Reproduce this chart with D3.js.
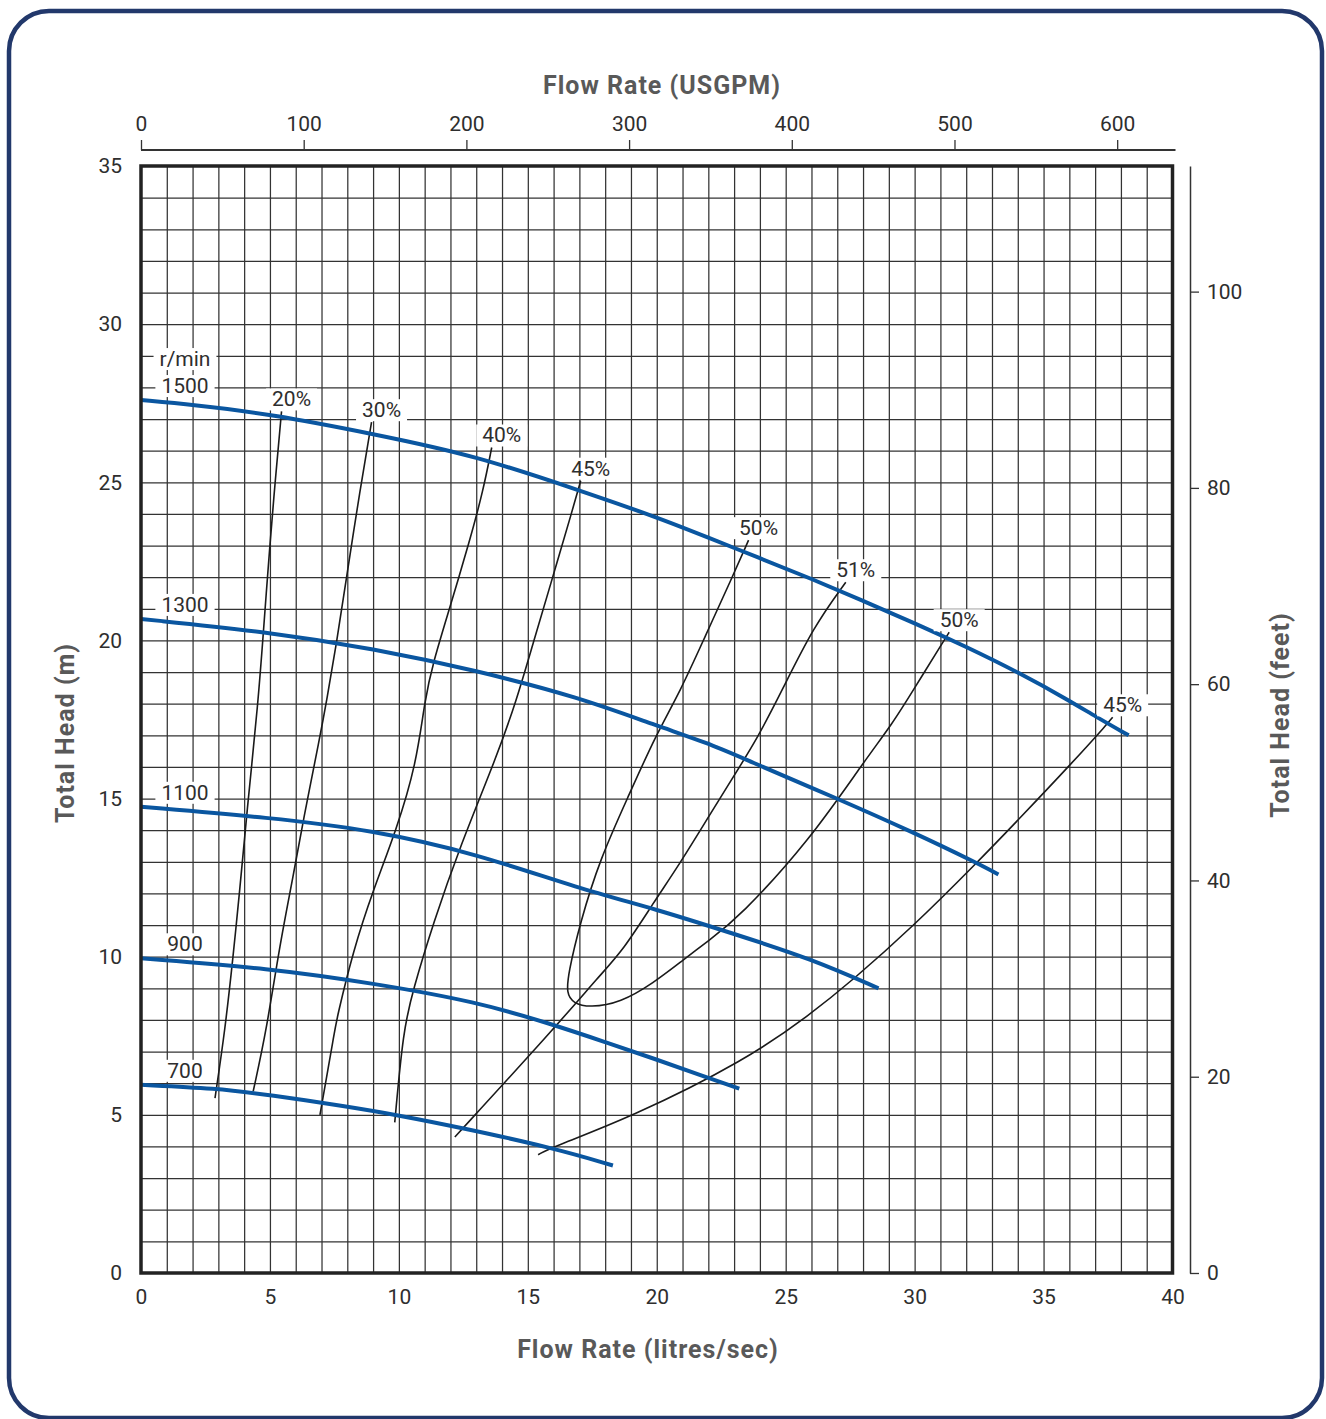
<!DOCTYPE html>
<html>
<head>
<meta charset="utf-8">
<script src="https://cdn.jsdelivr.net/npm/d3@7"></script>
<style>
  html, body { margin: 0; padding: 0; background: #fff; }
  svg { display: block; }
</style>
</head>
<body>
<div id="chart"></div>
<script>
// axis ticks
const flowTicks = [0, 5, 10, 15, 20, 25, 30, 35, 40];
const headTicks = [0, 5, 10, 15, 20, 25, 30, 35];
const gpmTicks = [0, 100, 200, 300, 400, 500, 600];
const feetTicks = [0, 20, 40, 60, 80, 100];
const LPS_TO_GPM = 15.85;

// pump curves: [flow l/s, head m]
const speedLabels = ["1500", "1300", "1100", "900", "700"];
const head1500 = [[0, 27.6], [2, 27.45], [5, 27.16], [9, 26.53], [13, 25.84], [17, 24.74], [20, 23.9], [22, 23.25], [24, 22.6], [26, 21.95], [28, 21.25], [30, 20.55], [32, 19.8], [34, 19.0], [36, 18.1], [37, 17.6], [38.3, 17.0]];
const head1300 = [[0, 20.68], [5, 20.26], [9, 19.74], [13, 19.05], [17, 18.2], [20, 17.3], [22, 16.75], [23.4, 16.25], [27, 15.0], [29.9, 13.95], [32.4, 12.97], [33.25, 12.6]];
const head1100 = [[0, 14.74], [5, 14.4], [9, 14.0], [13, 13.26], [17, 12.15], [20, 11.5], [23, 10.72], [26, 9.93], [28.6, 9.0]];
const head900 = [[0, 9.95], [5, 9.63], [9, 9.16], [13, 8.58], [16, 7.85], [18, 7.3], [20, 6.75], [21.7, 6.25], [23.2, 5.83]];
const head700 = [[0, 5.95], [2.9, 5.84], [5, 5.63], [8, 5.26], [9.9, 5.0], [12.5, 4.58], [16, 3.95], [18.3, 3.4]];
const speedCurves = [head1500, head1300, head1100, head900, head700];

// efficiency curves, first point is the labelled end
const effLabels = ["20%", "30%", "40%", "45%", "50%", "51%", "50%", "45%"];
const eff20 = [[5.45, 27.24], [5.2, 25.0], [5.0, 23.05], [4.74, 20.21], [4.55, 18.1], [4.1, 14.53], [3.83, 12.1], [3.57, 10.0], [3.26, 7.69], [2.87, 5.53]];
const eff30 = [[8.94, 26.9], [8.49, 24.74], [7.97, 22.0], [7.58, 19.9], [7.2, 18.1], [6.94, 16.95], [6.29, 14.32], [5.9, 12.53], [5.39, 10.42], [4.87, 7.69], [4.35, 5.74]];
const eff40 = [[13.6, 26.1], [13.27, 24.74], [12.75, 23.16], [11.98, 21.05], [11.33, 19.32], [11.0, 18.1], [10.68, 16.1], [9.9, 14.0], [9.0, 12.1], [8.23, 10.2], [7.58, 8.0], [7.52, 7.69], [6.94, 5.0]];
const eff45 = [[17.05, 25.05], [16.76, 24.2], [15.85, 21.68], [15.2, 19.9], [14.56, 18.1], [13.79, 16.32], [12.36, 13.47], [11.33, 11.05], [10.55, 8.95], [10.17, 7.69], [9.84, 4.76]];
const eff50 = [[23.56, 23.17], [22.93, 22.0], [21.86, 20.1], [20.93, 18.42], [19.93, 16.95], [18.95, 15.16], [17.8, 13.1], [17.02, 11.05], [16.57, 9.47], [16.5, 8.84], [16.76, 8.53], [17.4, 8.39], [18.6, 8.55], [19.86, 9.16], [21.03, 9.9], [22.0, 10.5], [23.2, 11.25], [25.93, 13.68], [28.07, 16.21], [29.14, 17.37], [29.94, 18.42], [31.14, 20.0], [31.34, 20.26]];
const eff51 = [[27.33, 21.84], [26.07, 20.42], [24.86, 18.42], [23.86, 16.84], [22.96, 15.68], [21.93, 14.32], [20.9, 12.95], [19.86, 11.69], [18.7, 10.21], [17.8, 9.42], [15.98, 7.69], [12.17, 4.3]];
const eff50r = eff50.slice().reverse();
const eff45r = [[37.68, 17.57], [37.48, 17.37], [36.2, 16.21], [34.07, 14.37], [32.39, 12.95], [29.93, 10.95], [27.6, 9.26], [25.93, 8.16], [23.48, 6.74], [18.95, 4.9], [15.85, 3.95], [15.4, 3.74]];
const effCurves = [eff20, eff30, eff40, eff45, eff50, eff51, eff45r];
// label anchors: the loop carries two labels (one per end)
const effLabelCurves = [eff20, eff30, eff40, eff45, eff50, eff51, eff50r, eff45r];

const width = 1326, height = 1419;
const blue = "#0a56a0";
const ink = "#2e2e2e";
const titleGrey = "#595959";
const font = "Roboto, 'DejaVu Sans', sans-serif";

const svg = d3.select('#chart').append('svg')
    .attr('width', width)
    .attr('height', height);

// outer rounded frame
svg.append('rect')
    .attr('x', 9).attr('y', 11)
    .attr('width', 1313).attr('height', 1407)
    .attr('rx', 40).attr('ry', 40)
    .attr('fill', 'none')
    .attr('stroke', '#22386b')
    .attr('stroke-width', 4.5);

const x = d3.scaleLinear().domain([0, 40]).range([141, 1172.5]);
const y = d3.scaleLinear().domain([0, 35]).range([1273, 166]);
const xGpm = d3.scaleLinear().domain([0, 40 * LPS_TO_GPM]).range([141, 1172.5]);
const yFt = d3.scaleLinear().domain([0, 112.8]).range([1273, 166]);

const plotH = y(0) - y(35);
const plotW = x(40) - x(0);

// grid every 1 unit
const gridX = svg.append('g')
    .attr('transform', `translate(0,${y(0)})`)
    .call(d3.axisBottom(x).tickValues(d3.range(1, 40)).tickSize(-plotH).tickFormat(''));
const gridY = svg.append('g')
    .attr('transform', `translate(${x(0)},0)`)
    .call(d3.axisLeft(y).tickValues(d3.range(1, 35)).tickSize(-plotW).tickFormat(''));
[gridX, gridY].forEach(g => {
    g.select('.domain').remove();
    g.selectAll('line').attr('stroke', '#333').attr('stroke-width', 1.25);
});

// smooth through the read-off points
const line = d3.line()
    .x(d => x(d[0]))
    .y(d => y(d[1]))
    .curve(d3.curveBasis);

// efficiency curves (thin black)
svg.append('g').selectAll('path')
    .data(effCurves)
    .enter().append('path')
    .attr('d', line)
    .attr('fill', 'none')
    .attr('stroke', '#1a1a1a')
    .attr('stroke-width', 1.6);

// speed curves (blue)
svg.append('g').selectAll('path')
    .data(speedCurves)
    .enter().append('path')
    .attr('d', line)
    .attr('fill', 'none')
    .attr('stroke', blue)
    .attr('stroke-width', 4)
    .attr('stroke-linecap', 'butt');

// labels with white boxes
const labelLayer = svg.append('g');
function boxedLabel(tx, ty, txt) {
    const g = labelLayer.append('g');
    const t = g.append('text')
        .attr('x', tx).attr('y', ty)
        .attr('text-anchor', 'middle')
        .attr('font-family', font)
        .attr('font-size', 21)
        .attr('fill', ink)
        .text(txt);
    const bb = t.node().getBBox();
    g.insert('rect', 'text')
        .attr('x', bb.x - 6).attr('y', bb.y + 1)
        .attr('width', bb.width + 12).attr('height', bb.height - 2)
        .attr('fill', '#fff');
}

speedCurves.forEach((c, i) => {
    boxedLabel(x(0) + 44, y(c[0][1]) - 7, speedLabels[i]);
});
boxedLabel(x(0) + 44, y(head1500[0][1]) - 34, 'r/min');

effLabelCurves.forEach((c, i) => {
    boxedLabel(x(c[0][0]) + 10, y(c[0][1]) - 5, effLabels[i]);
});

// plot frame
svg.append('rect')
    .attr('x', x(0)).attr('y', y(35))
    .attr('width', plotW).attr('height', plotH)
    .attr('fill', 'none')
    .attr('stroke', '#222')
    .attr('stroke-width', 3.5);

function styleAxis(g) {
    g.attr('font-family', font).attr('font-size', 21);
    g.selectAll('text').attr('fill', ink);
    g.selectAll('line').attr('stroke', '#333').attr('stroke-width', 1.3);
    g.select('.domain').attr('stroke', '#333').attr('stroke-width', 2);
}

// left (m)
const axL = svg.append('g')
    .attr('transform', `translate(${x(0)},0)`)
    .call(d3.axisLeft(y).tickValues(headTicks).tickSize(0).tickPadding(19));
axL.select('.domain').remove();
styleAxis(axL);

// bottom (l/s)
const axB = svg.append('g')
    .attr('transform', `translate(0,${y(0)})`)
    .call(d3.axisBottom(x).tickValues(flowTicks).tickSize(0).tickPadding(16));
axB.select('.domain').remove();
styleAxis(axB);

// top (USGPM)
const axT = svg.append('g')
    .attr('transform', 'translate(0,150)')
    .call(d3.axisTop(xGpm).tickValues(gpmTicks).tickSize(10).tickSizeOuter(0).tickPadding(9));
styleAxis(axT);
axT.select('.domain').attr('d', `M${x(0)},0H${x(40) + 3}`);

// right (feet)
const axR = svg.append('g')
    .attr('transform', 'translate(1190,0)')
    .call(d3.axisRight(yFt).tickValues(feetTicks).tickSize(9).tickSizeOuter(0).tickPadding(8));
styleAxis(axR);
axR.select('.domain').attr('stroke-width', 1.5);

// axis titles
function title(tx, ty, txt, rot) {
    svg.append('text')
        .attr('transform', `translate(${tx},${ty})` + (rot ? ` rotate(${rot})` : ''))
        .attr('text-anchor', 'middle')
        .attr('font-family', font)
        .attr('font-weight', 700)
        .attr('font-size', 25)
        .attr('letter-spacing', 1)
        .attr('fill', titleGrey)
        .text(txt);
}
title(662, 94, 'Flow Rate (USGPM)');
title(648, 1358, 'Flow Rate (litres/sec)');
title(74, 733, 'Total Head (m)', -90);
title(1289, 715, 'Total Head (feet)', -90);
</script>
</body>
</html>
